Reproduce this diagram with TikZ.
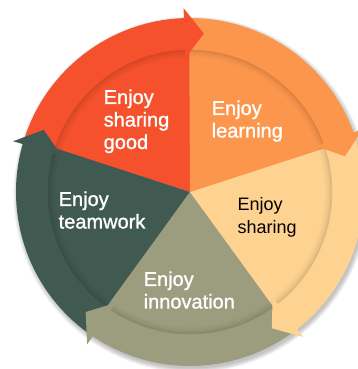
\documentclass[tikz,border=0pt]{standalone}
\usepackage{fontspec}
\setmainfont{Liberation Sans}
\newfontfamily\medfont[FakeBold=1.2]{Liberation Sans}
\definecolor{cred}{RGB}{244,81,44}
\definecolor{corange}{RGB}{252,150,77}
\definecolor{cpeach}{RGB}{254,210,145}
\definecolor{colive}{RGB}{156,156,126}
\definecolor{cgreen}{RGB}{64,89,81}
\tikzset{
  lbl/.style={anchor=base west, inner sep=0pt, align=left, text=white,
    font=\medfont\fontsize{20}{22.5}\selectfont},
  lbldark/.style={anchor=base west, inner sep=0pt, align=left, text=black,
    font=\fontsize{18}{22.5}\selectfont}
}
\begin{document}
\begin{tikzpicture}[x=1pt,y=1pt]
\useasboundingbox (0,0) rectangle (358,369);
\clip (0,0) rectangle (358,369);
\coordinate (C) at (190,177);
% outer drop shadow
\foreach \k in {0,1,2,3,4}{
  \fill[black,opacity=0.05] ([shift={(1.5,-2.5)}]C) circle[radius=174+\k];
}
% wedges
\foreach \c/\s in {cred/90, cgreen/162, colive/234, cpeach/306, corange/18}{
  \pgfmathsetmacro\e{\s+72.3}
  \fill[\c] (C) -- ++(\s:174) arc[start angle=\s, end angle=\e, radius=174] -- cycle;
}
% inner shadow under the ring
\foreach \r/\o in {141.5/0.12, 140/0.08, 138.5/0.05, 137/0.03, 135.5/0.015}{
  \draw[black, opacity=\o, line width=1.5pt] (C) circle[radius=\r];
}
% arrow heads
\foreach \c/\p in {cred/90, corange/18, cpeach/-54, colive/234, cgreen/162}{
  \pgfmathsetmacro\pa{\p+2}
  \pgfmathsetmacro\pb{\p-5}
  \fill[\c] ([shift={(\pa:184)}]C) -- ([shift={(\pb:159)}]C) -- ([shift={(\pa:134)}]C) -- cycle;
}
% labels (base anchor = baseline of the last line)
\node[lbl] (good) at (103.5,220) {Enjoy\\sharing\\good};
\node[lbl] (learn) at (211.5,231.5) {Enjoy\\learning};
\node[lbldark] (share) at (237.5,135.8) {Enjoy\\sharing};
\node[lbl] (team) at (58.5,140.5) {Enjoy\\teamwork};
\node[lbl] (innov) at (143.5,60.5) {Enjoy\\innovation};
\end{tikzpicture}
\end{document}
